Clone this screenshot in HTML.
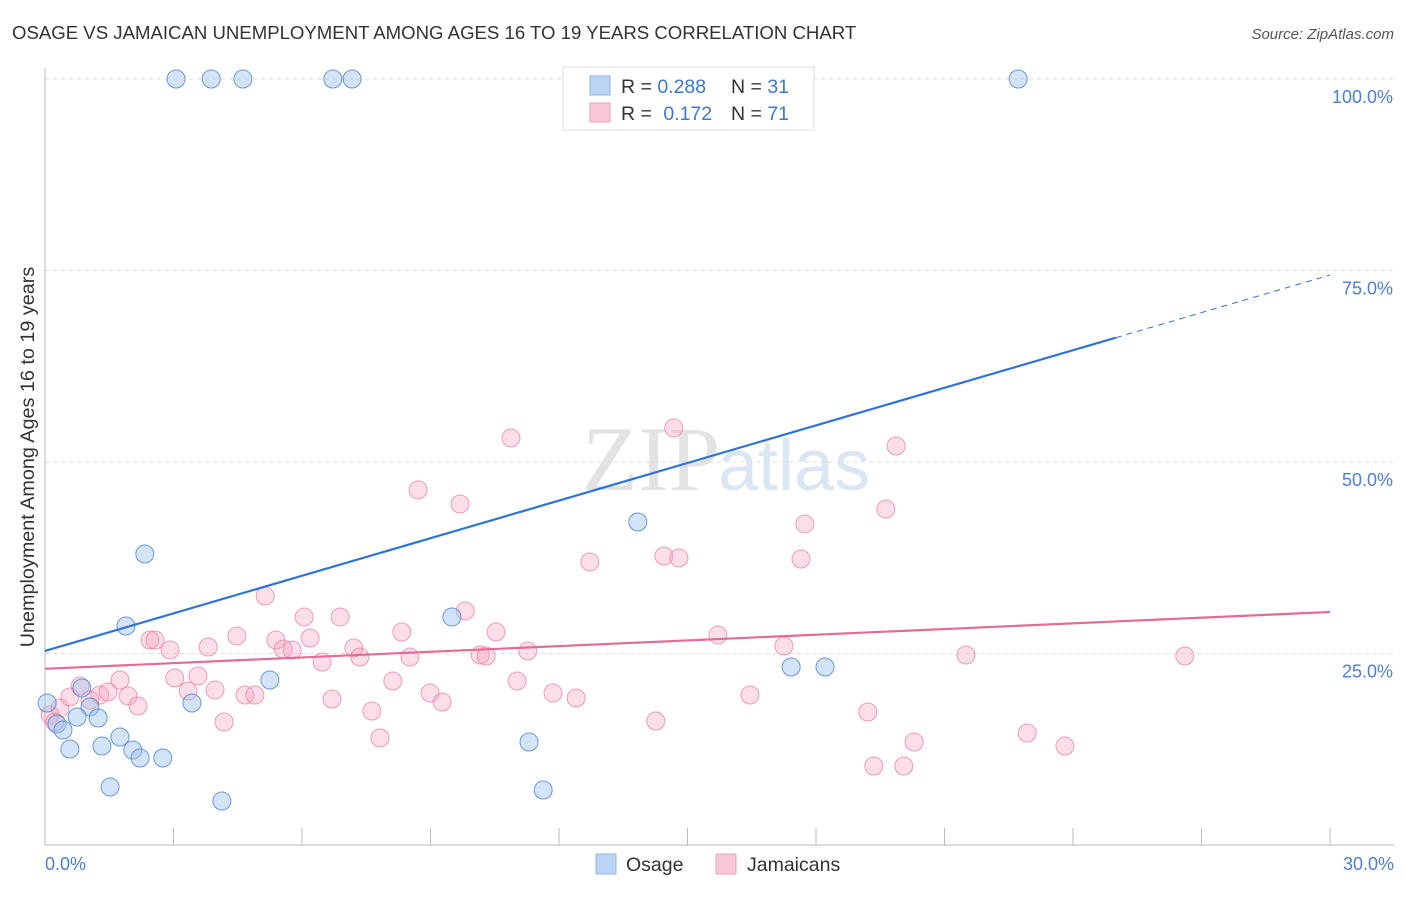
<!DOCTYPE html>
<html><head><meta charset="utf-8"><style>
body{margin:0;background:#fff;font-family:"Liberation Sans",sans-serif}
</style></head><body>
<svg id="chart" width="1406" height="892" viewBox="0 0 1406 892" xmlns="http://www.w3.org/2000/svg" font-family="Liberation Sans, sans-serif">
<text x="12" y="39" font-size="18.6" fill="#333">OSAGE VS JAMAICAN UNEMPLOYMENT AMONG AGES 16 TO 19 YEARS CORRELATION CHART</text>
<text x="1394" y="39" font-size="15" fill="#555" font-style="italic" text-anchor="end">Source: ZipAtlas.com</text>
<text x="720" y="490" font-size="92" fill="#e3e3e3" text-anchor="end" font-family="Liberation Serif, serif">ZIP</text>
<text x="718" y="490" font-size="72" fill="#dbe6f5">atlas</text>
<text transform="translate(34,457) rotate(-90)" font-size="19.8" fill="#333" text-anchor="middle">Unemployment Among Ages 16 to 19 years</text>
<g id="grid"></g><g id="axes"></g><g id="pts"></g><g id="lines"></g>
<g>
<rect x="563" y="67" width="251" height="63" fill="#fff" stroke="#ddd"/>
<rect x="590" y="76" width="20" height="19" fill="#b9d4f5" stroke="#8fb4e6"/>
<rect x="590" y="103" width="20" height="19" fill="#f9c8d6" stroke="#eea3b8"/>
<text x="621" y="93" font-size="19.5" fill="#333">R = <tspan fill="#3b78d4">0.288</tspan></text>
<text x="731" y="93" font-size="19.5" fill="#333">N = <tspan fill="#3b78d4">31</tspan></text>
<text x="621" y="120" font-size="19.5" fill="#333">R = <tspan fill="#3b78d4" dx="6">0.172</tspan></text>
<text x="731" y="120" font-size="19.5" fill="#333">N = <tspan fill="#3b78d4">71</tspan></text>
</g>
<g>
<rect x="596" y="854" width="20" height="20" fill="#b9d4f5" stroke="#8fb4e6"/>
<text x="626" y="871" font-size="19.5" fill="#333">Osage</text>
<rect x="716" y="854" width="20" height="20" fill="#f9c8d6" stroke="#eea3b8"/>
<text x="747" y="871" font-size="19.5" fill="#333">Jamaicans</text>
</g>
</svg>
<script>
const yTicks=[25,50,75,100];
const yTickLabels=["25.0%","50.0%","75.0%","100.0%"];
const osageX=[3.06,3.88,4.62,6.72,7.17,22.72,2.33,1.89,9.50,13.84,5.25,0.86,3.43,0.05,1.05,0.75,1.24,0.28,0.42,0.58,1.33,1.75,2.05,2.22,2.75,1.52,4.13,11.30,11.63,17.42,18.21];
const osageY=[100,100,100,100,100,100,37.99,28.59,29.77,42.17,21.54,20.50,18.54,18.54,18.02,16.71,16.58,15.80,15.01,12.53,12.92,14.10,12.40,11.36,11.36,7.57,5.74,13.45,7.18,23.24,23.24];
const jamX=[0.12,0.23,0.35,0.58,0.82,1.05,1.28,1.47,1.75,1.94,2.17,2.45,2.57,2.92,3.03,3.34,3.57,3.81,3.97,4.18,4.48,4.67,4.90,5.14,5.39,5.56,5.77,6.05,6.19,6.47,6.70,6.89,7.21,7.35,7.63,7.82,8.12,8.33,8.52,8.71,8.99,9.27,9.69,9.81,10.16,10.30,10.53,10.88,11.02,11.27,11.86,12.40,12.72,14.26,14.45,14.68,14.80,15.71,16.46,17.25,17.65,17.74,19.21,19.35,19.63,19.87,20.05,20.29,21.50,22.93,23.81,26.61];
const jamY=[16.97,16.06,17.89,19.32,20.76,18.93,19.58,19.97,21.54,19.45,18.15,26.76,26.76,25.46,21.80,20.10,22.06,25.85,20.24,16.06,27.28,19.58,19.58,32.51,26.76,25.59,25.46,29.77,27.02,23.89,19.06,29.77,25.72,24.54,17.49,13.97,21.41,27.81,24.54,46.35,19.84,18.67,44.52,30.55,24.80,24.67,27.81,53.13,21.41,25.33,19.84,19.19,36.95,16.19,37.73,54.44,37.47,27.42,19.58,25.98,37.34,41.91,17.36,10.31,43.86,52.09,10.31,13.45,24.80,14.62,12.92,24.67];
const osageTrend=[25.33,74.41];
const jamTrend=[23.0,30.42];
const NS="http://www.w3.org/2000/svg";
const X=v=>45+v/30*1285, Y=v=>845-v/100*766;
function mk(t,a,p){const e=document.createElementNS(NS,t);for(const k in a)e.setAttribute(k,a[k]);document.getElementById(p).appendChild(e);return e;}
yTicks.forEach((t,i)=>{
 const l=mk('line',{x1:45,x2:1394,y1:Y(t),y2:Y(t),stroke:'#ddd','stroke-dasharray':'4,4'},'grid');
 
 
 const tx=mk('text',{x:1393,y:Y(t)+24,'font-size':18,fill:'#4a7fd6','text-anchor':'end'},'grid');
 tx.textContent=yTickLabels[i];
 
 
});
const ax=mk('line',{x1:45,x2:1394,y1:845,y2:845,stroke:'#bbb'},'axes');


const ay=mk('line',{x1:45,x2:45,y1:68,y2:845,stroke:'#bbb'},'axes');


for(let i=0;i<=10;i++){
 const t=mk('line',{x1:X(i*3),x2:X(i*3),y1:828,y2:845,stroke:'#bbb'},'axes');
 
 
}
const xl0=mk('text',{x:45,y:870,'font-size':18,fill:'#4a7fd6'},'axes');xl0.textContent='0.0%';


const xl1=mk('text',{x:1394,y:870,'font-size':18,fill:'#4a7fd6','text-anchor':'end'},'axes');xl1.textContent='30.0%';


jamX.forEach((x,i)=>{
 const c=mk('circle',{cx:X(x),cy:Y(jamY[i]),r:9,fill:'rgba(244,160,185,0.35)',stroke:'rgba(232,120,155,0.7)','stroke-width':1},'pts');
 
 
});
osageX.forEach((x,i)=>{
 const c=mk('circle',{cx:X(x),cy:Y(osageY[i]),r:9,fill:'rgba(160,196,240,0.45)',stroke:'rgba(70,130,215,0.8)','stroke-width':1},'pts');
 
 
});
const oy=x=>osageTrend[0]+(osageTrend[1]-osageTrend[0])*x/30;
const l1=mk('line',{x1:X(0),y1:Y(oy(0)),x2:X(25),y2:Y(oy(25)),stroke:'#2f74d6','stroke-width':2.2},'lines');


const l2=mk('line',{x1:X(25),y1:Y(oy(25)),x2:X(30),y2:Y(oy(30)),stroke:'#2f74d6','stroke-width':1,'stroke-dasharray':'6,5'},'lines');


const l3=mk('line',{x1:X(0),y1:Y(jamTrend[0]),x2:X(30),y2:Y(jamTrend[1]),stroke:'#e66a96','stroke-width':2.2},'lines');


</script>
</body></html>
